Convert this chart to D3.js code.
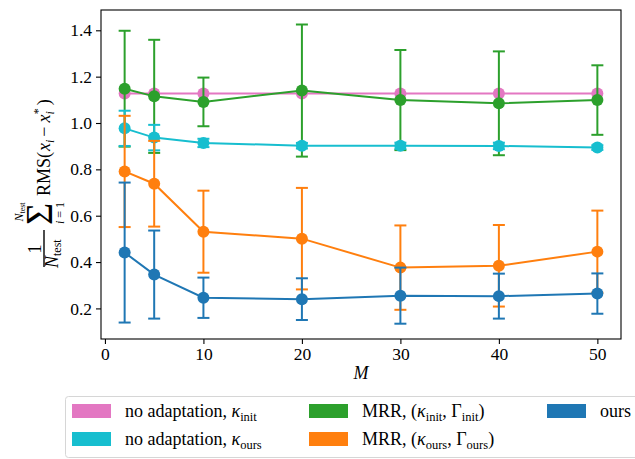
<!DOCTYPE html>
<html>
<head>
<meta charset="utf-8">
<script src="https://cdn.jsdelivr.net/npm/d3@7"></script>
<style>
  body { margin: 0; background: #fff; }
  svg text { font-family: "Liberation Serif", "Times New Roman", serif; }
</style>
</head>
<body>
<div class="visualization"></div>
<script>
// x values (M) and the per-method mean / std of the RMS error
const M = [2, 5, 10, 20, 30, 40, 50];

const noAdaptInit = [1.127, 1.127, 1.127, 1.127, 1.127, 1.127, 1.127];
const noAdaptInitErr = [0, 0, 0, 0, 0, 0, 0];

const noAdaptOurs = [0.977, 0.937, 0.914, 0.902, 0.902, 0.901, 0.894];
const noAdaptOursErr = [0.076, 0.055, 0.018, 0.012, 0.013, 0.014, 0.010];

const mrrInit = [1.148, 1.115, 1.091, 1.140, 1.099, 1.085, 1.099];
const mrrInitErr = [0.250, 0.244, 0.105, 0.285, 0.216, 0.224, 0.150];

const mrrOurs = [0.791, 0.738, 0.531, 0.501, 0.376, 0.384, 0.445];
const mrrOursErr = [0.240, 0.185, 0.177, 0.219, 0.182, 0.176, 0.177];

const ours = [0.441, 0.346, 0.246, 0.240, 0.255, 0.253, 0.264];
const oursErr = [0.302, 0.190, 0.087, 0.090, 0.121, 0.097, 0.087];

const xTicks = [0, 10, 20, 30, 40, 50];
const yTicks = [0.2, 0.4, 0.6, 0.8, 1.0, 1.2, 1.4];

// drawing order (pink first, blue last)
const series = [
    {key: 'pink', color: '#e377c2', mean: noAdaptInit, err: noAdaptInitErr},
    {key: 'green', color: '#2ca02c', mean: mrrInit, err: mrrInitErr},
    {key: 'cyan', color: '#17becf', mean: noAdaptOurs, err: noAdaptOursErr},
    {key: 'orange', color: '#ff7f0e', mean: mrrOurs, err: mrrOursErr},
    {key: 'blue', color: '#1f77b4', mean: ours, err: oursErr}
];

const width = 635, height = 459;
const plot = {left: 101, right: 621, top: 10, bottom: 339};
const serif = '"Liberation Serif", "Times New Roman", serif';

const svg = d3.select('.visualization').append('svg')
    .attr('width', width)
    .attr('height', height);

const x = d3.scaleLinear().domain([-0.4, 52.4]).range([plot.left, plot.right]);
const y = d3.scaleLinear().domain([0.068, 1.4876]).range([plot.bottom, plot.top]);

// axes
const xAxis = d3.axisBottom(x).tickValues(xTicks).tickSize(5).tickPadding(4).tickFormat(d3.format('d'));
const yAxis = d3.axisLeft(y).tickValues(yTicks).tickSize(5).tickPadding(4).tickFormat(d3.format('.1f'));

const gx = svg.append('g').attr('transform', `translate(0,${plot.bottom})`).call(xAxis);
const gy = svg.append('g').attr('transform', `translate(${plot.left},0)`).call(yAxis);
[gx, gy].forEach(g => {
    g.attr('font-family', null).attr('font-size', null);
    g.select('.domain').remove();
    g.selectAll('text').style('font-size', '17.5px').attr('fill', '#000')
        .style('font-family', serif);
    g.selectAll('line').attr('stroke', '#000').attr('stroke-width', 1.1);
});

const main = svg.append('g').attr('class', 'marks');

const line = d3.line().x((d, i) => x(M[i])).y(d => y(d));

series.forEach(s => {
    const g = main.append('g').attr('class', s.key);
    // error bars
    M.forEach((m, i) => {
        if (!s.err[i]) return;
        const lo = y(s.mean[i] - s.err[i]), hi = y(s.mean[i] + s.err[i]);
        g.append('line').attr('x1', x(m)).attr('x2', x(m)).attr('y1', lo).attr('y2', hi)
            .attr('stroke', s.color).attr('stroke-width', 2);
        [lo, hi].forEach(yy => g.append('line')
            .attr('x1', x(m) - 6).attr('x2', x(m) + 6).attr('y1', yy).attr('y2', yy)
            .attr('stroke', s.color).attr('stroke-width', 2));
    });
    g.append('path').datum(s.mean).attr('d', line)
        .attr('fill', 'none').attr('stroke', s.color).attr('stroke-width', 2);
    g.selectAll('circle').data(s.mean).enter().append('circle')
        .attr('cx', (d, i) => x(M[i])).attr('cy', d => y(d)).attr('r', 6)
        .attr('fill', s.color);
});

// frame
svg.append('rect')
    .attr('x', plot.left).attr('y', plot.top)
    .attr('width', plot.right - plot.left).attr('height', plot.bottom - plot.top)
    .attr('fill', 'none').attr('stroke', '#000').attr('stroke-width', 1.1);

// x label
svg.append('text').attr('x', (plot.left + plot.right) / 2).attr('y', 379)
    .attr('text-anchor', 'middle').style('font-size', '18px').style('font-style', 'italic')
    .style('font-family', serif).text('M');

// y label: 1/N_test sum_{i=1}^{N_test} RMS(x_i - x_i^*)
const yl = svg.append('g').attr('transform', 'translate(0,268) rotate(-90)')
    .style('font-family', serif);
yl.append('text').attr('x', 19).attr('y', 41).attr('text-anchor', 'middle')
    .style('font-size', '18px').text('1');
yl.append('line').attr('x1', 1).attr('x2', 38).attr('y1', 44).attr('y2', 44)
    .attr('stroke', '#000').attr('stroke-width', 1.4);
const den = yl.append('text').attr('x', 0).attr('y', 58).style('font-size', '18px');
den.append('tspan').style('font-style', 'italic').text('N');
den.append('tspan').attr('dy', 3).style('font-size', '12px').text('test');
yl.append('text').attr('x', 43).attr('y', 52).style('font-size', '38px').text('Σ');
const up = yl.append('text').attr('x', 56).attr('y', 23).attr('text-anchor', 'middle').style('font-size', '12px');
up.append('tspan').style('font-style', 'italic').text('N');
up.append('tspan').attr('dy', 2).style('font-size', '8px').text('test');
const low = yl.append('text').attr('x', 55).attr('y', 64).attr('text-anchor', 'middle').style('font-size', '12px');
low.append('tspan').style('font-style', 'italic').text('i');
low.append('tspan').text(' = 1');
const rms = yl.append('text').attr('x', 72).attr('y', 50).style('font-size', '18px');
rms.append('tspan').text('RMS(');
rms.append('tspan').attr('dx', 1).style('font-style', 'italic').text('x');
rms.append('tspan').attr('dy', 4).style('font-size', '12px').style('font-style', 'italic').text('i');
rms.append('tspan').attr('dy', -4).attr('dx', 3).text('−');
rms.append('tspan').attr('dx', 4).style('font-style', 'italic').text('x');
rms.append('tspan').attr('dy', 4).style('font-size', '12px').style('font-style', 'italic').text('i');
rms.append('tspan').attr('dy', -12).attr('dx', -3).style('font-size', '12px').text('*');
rms.append('tspan').attr('dy', 8).attr('dx', 3).text(')');

// legend
const legendItems = [
    {color: '#e377c2', col: 0, row: 0, parts: [['no adaptation, ', ''], ['κ', 'i'], ['init', 's']]},
    {color: '#17becf', col: 0, row: 1, parts: [['no adaptation, ', ''], ['κ', 'i'], ['ours', 's']]},
    {color: '#2ca02c', col: 1, row: 0, parts: [['MRR, (', ''], ['κ', 'i'], ['init', 's'], [', Γ', ''], ['init', 's'], [')', '']]},
    {color: '#ff7f0e', col: 1, row: 1, parts: [['MRR, (', ''], ['κ', 'i'], ['ours', 's'], [', Γ', ''], ['ours', 's'], [')', '']]},
    {color: '#1f77b4', col: 2, row: 0, parts: [['ours', '']]}
];
const colX = [72, 309, 547];
const rowY = [404, 432];

const legend = svg.append('g').attr('class', 'legend').style('font-family', serif);
legend.append('rect').attr('x', 65.5).attr('y', 396.5).attr('width', 600).attr('height', 61)
    .attr('rx', 3).attr('fill', '#fff').attr('stroke', '#d6d6d6').attr('stroke-width', 1);
legendItems.forEach(it => {
    const lx = colX[it.col], ly = rowY[it.row];
    legend.append('rect').attr('x', lx).attr('y', ly).attr('width', 39).attr('height', 14)
        .attr('fill', it.color);
    const t = legend.append('text').attr('x', lx + 53).attr('y', ly + 13).style('font-size', '18px');
    let shifted = false;
    it.parts.forEach(([txt, kind]) => {
        const sp = t.append('tspan').text(txt);
        if (kind === 'i') sp.style('font-style', 'italic');
        if (kind === 's') {
            sp.style('font-size', '12.5px').attr('dy', shifted ? 0 : 4);
            shifted = true;
        } else if (shifted) {
            sp.attr('dy', -4);
            shifted = false;
        }
    });
});
</script>
</body>
</html>
